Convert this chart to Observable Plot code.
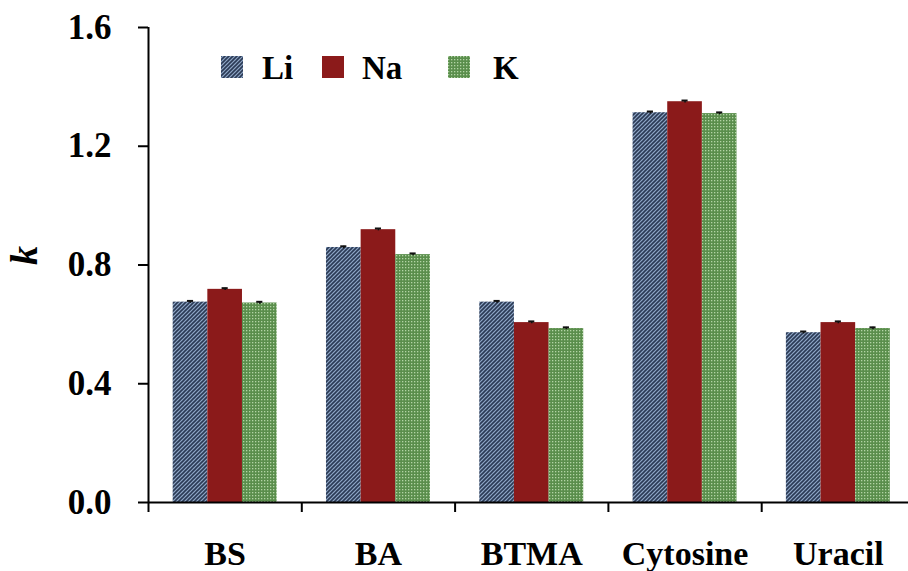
<!DOCTYPE html>
<html><head><meta charset="utf-8">
<script src="https://cdn.jsdelivr.net/npm/d3@7"></script>
<script src="https://cdn.jsdelivr.net/npm/@observablehq/plot@0.6"></script>
<style>
body{margin:0;background:#fff;}
#wrap{position:relative;width:908px;height:571px;overflow:hidden;}
.lg{position:absolute;font:bold 33px "Liberation Serif","Times New Roman",serif;line-height:33px;color:#000;}
.sw{position:absolute;width:22px;height:22px;}
</style>
</head><body><div id="wrap"></div>
<script>
// ---- data ----
const categories = ["BS", "BA", "BTMA", "Cytosine", "Uracil"];
const ions = ["Li", "Na", "K"];
const kLi = [0.675, 0.859, 0.675, 1.313, 0.572];
const kNa = [0.718, 0.919, 0.606, 1.350, 0.606];
const kK  = [0.672, 0.835, 0.586, 1.310, 0.586];
const kErr = [0.004, 0.004, 0.004, 0.004, 0.004];
const yTicks = [0, 0.4, 0.8, 1.2, 1.6];

const seriesVals = {Li: kLi, Na: kNa, K: kK};
const rows = [];
ions.forEach((ion, s) => categories.forEach((cat, i) => rows.push({cat, i, ion, s, k: seriesVals[ion][i], err: kErr[i]})));

const bw = 0.226;            // bar width in category units
const center = d => d.i + (d.s - 1) * bw;
const boundaries = d3.range(categories.length + 1).map(i => i - 0.5);

const chart = Plot.plot({
  width: 908, height: 571,
  marginLeft: 148, marginRight: 0, marginTop: 27, marginBottom: 69,
  style: {fontFamily: "'Liberation Serif','Times New Roman',serif", fontWeight: "bold", fontSize: "34px", color: "#000", background: "#fff", overflow: "visible"},
  x: {type: "linear", domain: [-0.5, -0.5 + 760 / 153.3], axis: null},
  y: {domain: [0, 1.6], axis: null},
  marks: [
    ...ions.map((ion, s) => Plot.rectY(rows.filter(d => d.ion === ion), {
      x1: d => center(d) - bw / 2, x2: d => center(d) + bw / 2, y1: 0, y2: "k",
      fill: `url(#pat${ion})`
    })),
    Plot.ruleX(rows, {x: center, y1: d => d.k - d.err, y2: d => d.k + d.err, stroke: "#111", strokeWidth: 1.5}),
    Plot.ruleY(rows, {y: d => d.k + d.err, x1: d => center(d) - 0.02, x2: d => center(d) + 0.02, stroke: "#111", strokeWidth: 2}),
    Plot.ruleY([0], {stroke: "#000", strokeWidth: 2}),
    Plot.ruleX([-0.5], {y1: 0, y2: 1.6, stroke: "#000", strokeWidth: 2}),
    Plot.axisY({ticks: yTicks, tickFormat: d => d.toFixed(1), tickSize: 10, tickPadding: 27, strokeWidth: 2, fontSize: 35, label: null}),
    Plot.axisX({ticks: boundaries, tickFormat: () => "", tickSize: 10, strokeWidth: 2, label: null}),
    Plot.axisX({ticks: d3.range(categories.length), tickFormat: i => categories[i], tickSize: 0, tickPadding: 38, label: null}),
    Plot.text(["k"], {frameAnchor: "left", dx: -124, rotate: -90, fontStyle: "italic", fontWeight: "bold", fontSize: 38})
  ]
});

// patterns
const defs = d3.select(chart).insert("defs", ":first-child");
const pLi = defs.append("pattern").attr("id", "patLi").attr("patternUnits", "userSpaceOnUse").attr("width", 4).attr("height", 4);
pLi.append("rect").attr("width", 4).attr("height", 4).attr("fill", "#8ea6c6");
pLi.append("path").attr("d", "M-1,1 l2,-2 M0,4 l4,-4 M3,5 l2,-2").attr("stroke", "#2b3a55").attr("stroke-width", 1.6);
const pNa = defs.append("pattern").attr("id", "patNa").attr("patternUnits", "userSpaceOnUse").attr("width", 4).attr("height", 4);
pNa.append("rect").attr("width", 4).attr("height", 4).attr("fill", "#8b1a1a");
const pK = defs.append("pattern").attr("id", "patK").attr("patternUnits", "userSpaceOnUse").attr("width", 3).attr("height", 3);
pK.append("rect").attr("width", 3).attr("height", 3).attr("fill", "#5a8e4c");
pK.append("rect").attr("width", 1.3).attr("height", 1.3).attr("fill", "#b2d4a5");

const wrap = document.getElementById("wrap");
wrap.appendChild(chart);

// legend (HTML overlay)
const legendPos = [{sw: 221, tx: 262}, {sw: 322, tx: 362}, {sw: 448, tx: 493}];
ions.forEach((ion, s) => {
  const sw = document.createElement("div");
  sw.className = "sw";
  sw.style.left = legendPos[s].sw + "px"; sw.style.top = "56px";
  sw.innerHTML = `<svg width="22" height="22"><rect width="22" height="22" fill="url(#pat${ion})"/></svg>`;
  wrap.appendChild(sw);
  const t = document.createElement("div");
  t.className = "lg";
  t.style.left = legendPos[s].tx + "px"; t.style.top = "52px";
  t.textContent = ion;
  wrap.appendChild(t);
});
</script>
</body></html>
